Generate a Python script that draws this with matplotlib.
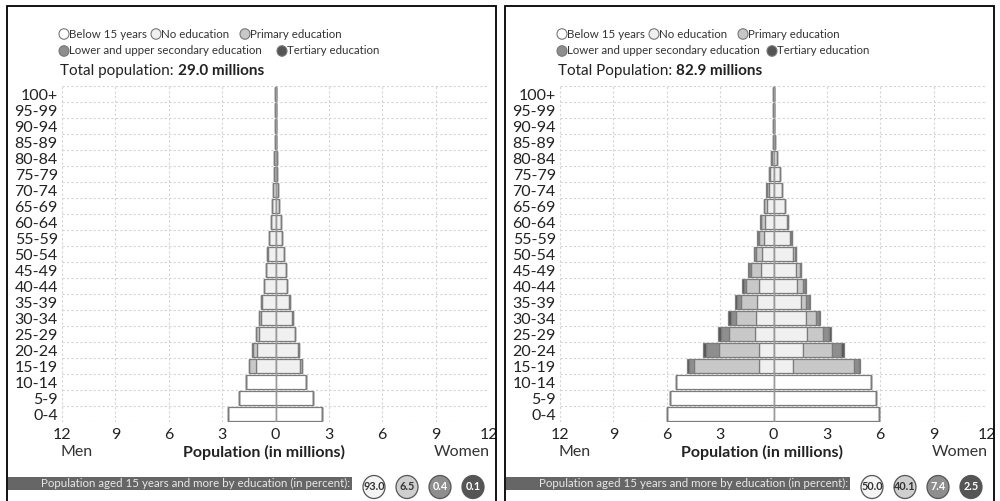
import matplotlib
matplotlib.use('Agg')
from matplotlib import pyplot as plt
from matplotlib.patches import Rectangle, Ellipse

plt.rcParams['font.family'] = ['Lato', 'DejaVu Sans']

ages = ['0-4', '5-9', '10-14', '15-19', '20-24', '25-29', '30-34', '35-39', '40-44',
        '45-49', '50-54', '55-59', '60-64', '65-69', '70-74', '75-79', '80-84',
        '85-89', '90-94', '95-99', '100+']

# left chart (29.0 millions) - millions, from 0-4 up to 100+
l_men_below15 = [2.68, 2.06, 1.67] + [0] * 18
l_men_noedu = [0, 0, 0, 1.10, 1.05, 0.95, 0.83, 0.74, 0.64, 0.54, 0.44, 0.35, 0.26,
               0.20, 0.15, 0.10, 0.06, 0.035, 0.015, 0.005, 0.001]
l_men_prim = [0, 0, 0, 0.38, 0.24, 0.15, 0.08, 0.05, 0.03, 0.02, 0.01, 0.01, 0,
              0, 0, 0, 0, 0, 0, 0, 0]
l_men_sec = [0, 0, 0, 0.02, 0.02, 0.01, 0.01] + [0] * 14
l_men_ter = [0] * 21
l_wom_below15 = [2.63, 2.10, 1.69] + [0] * 18
l_wom_noedu = [0, 0, 0, 1.40, 1.25, 1.09, 0.94, 0.78, 0.67, 0.58, 0.47, 0.37, 0.30,
               0.20, 0.15, 0.10, 0.06, 0.035, 0.015, 0.005, 0.001]
l_wom_prim = [0, 0, 0, 0.09, 0.05, 0.03, 0.02, 0.01] + [0] * 13
l_wom_sec = [0, 0, 0, 0.01, 0.01] + [0] * 16
l_wom_ter = [0] * 21

# right chart (82.9 millions)
r_men_below15 = [6.00, 5.83, 5.46] + [0] * 18
r_men_noedu = [0, 0, 0, 0.80, 0.80, 1.03, 0.99, 0.90, 0.80, 0.71, 0.62, 0.55, 0.48,
               0.37, 0.28, 0.18, 0.10, 0.04, 0.015, 0.004, 0.001]
r_men_prim = [0, 0, 0, 3.65, 2.28, 1.46, 1.12, 0.93, 0.75, 0.53, 0.38, 0.29, 0.22,
              0.15, 0.10, 0.06, 0.03, 0.01, 0.005, 0.001, 0]
r_men_sec = [0, 0, 0, 0.28, 0.71, 0.45, 0.28, 0.22, 0.13, 0.11, 0.07, 0.05, 0.03,
             0.02, 0.01, 0.005, 0, 0, 0, 0, 0]
r_men_ter = [0, 0, 0, 0.13, 0.17, 0.20, 0.17, 0.12, 0.08, 0.07, 0.04, 0.03, 0.02,
             0.01, 0.01, 0.005, 0, 0, 0, 0, 0]
r_wom_below15 = [5.95, 5.76, 5.48] + [0] * 18
r_wom_noedu = [0, 0, 0, 1.07, 1.63, 1.91, 1.82, 1.54, 1.34, 1.25, 1.08, 0.93, 0.76,
               0.62, 0.47, 0.34, 0.20, 0.10, 0.03, 0.01, 0.002]
r_wom_prim = [0, 0, 0, 3.46, 1.65, 0.90, 0.56, 0.30, 0.32, 0.22, 0.13, 0.08, 0.05,
              0.03, 0.01, 0.01, 0, 0, 0, 0, 0]
r_wom_sec = [0, 0, 0, 0.28, 0.54, 0.32, 0.18, 0.15, 0.11, 0.05, 0.03, 0.02, 0.01,
             0, 0, 0, 0, 0, 0, 0, 0]
r_wom_ter = [0, 0, 0, 0.07, 0.17, 0.10, 0.06, 0.06, 0.05, 0.03, 0.02, 0.01, 0,
             0, 0, 0, 0, 0, 0, 0, 0]

l_total = '29.0 millions'
r_total = '82.9 millions'
l_share = ['93.0', '6.5', '0.4', '0.1']
r_share = ['50.0', '40.1', '7.4', '2.5']

legend_labels = ['Below 15 years', 'No education', 'Primary education',
                 'Lower and upper secondary education', 'Tertiary education']
colors = ['#ffffff', '#f0f0f0', '#c8c8c8', '#8e8e8e', '#555555']
share_colors = ['#f4f4f4', '#cfcfcf', '#8e8e8e', '#555555']
share_text = ['#333333', '#333333', '#ffffff', '#ffffff']

W, H = 1000, 501
fig = plt.figure(figsize=(10, 5.01), dpi=100)


def fx(px):
    return px / W


def fy(py):
    return 1 - py / H


def panel(x0, men, wom, total_label, total, shares, tert_x):
    # outer frame
    fig.add_artist(Rectangle((fx(x0 + 7), fy(505)), fx(489), fy(6) - fy(505),
                             fill=False, edgecolor='black', lw=1.3))
    ax = fig.add_axes([fx(x0 + 62), fy(422), fx(427), fy(86) - fy(422)])
    y = list(range(len(ages)))
    for side, groups in ((-1, men), (1, wom)):
        left = [0] * len(ages)
        for vals, c in zip(groups, colors):
            w = [side * v for v in vals]
            ax.barh(y, w, left=[side * l for l in left], height=0.9, color=c,
                    edgecolor='#7c7c7c', linewidth=0.9, zorder=2)
            left = [a + b for a, b in zip(left, vals)]
    ax.axvline(0, color='#9a9a9a', lw=1, zorder=3)
    ax.set_xlim(-12, 12)
    ax.set_ylim(-0.5, len(ages) - 0.5)
    ax.set_xticks(range(-12, 13, 3))
    ax.set_xticklabels([str(abs(t)) for t in range(-12, 13, 3)])
    ax.set_yticks(y)
    ax.set_yticklabels(ages)
    for yy in range(len(ages) + 1):
        ax.axhline(yy - 0.5, color='#d4d4d4', lw=0.8, ls=(0, (2, 2)), zorder=1)
    for xx in range(-12, 13, 3):
        ax.axvline(xx, color='#d4d4d4', lw=0.8, ls=(0, (2, 2)), zorder=1)
    for s in ax.spines.values():
        s.set_visible(False)
    ax.tick_params(length=0, labelsize=11.5, labelcolor='#222222', pad=3)
    ax.tick_params(axis='x', pad=4)

    fig.text(fx(x0 + 60), fy(452), 'Men', fontsize=11.5, color='#333333', va='center')
    fig.text(fx(x0 + 264), fy(452), 'Population (in millions)', fontsize=11.5,
             fontweight='bold', color='#222222', ha='center', va='center')
    fig.text(fx(x0 + 490), fy(452), 'Women', fontsize=11.5, color='#333333',
             ha='right', va='center')

    # legend
    pos = [(64, 34), (156, 34), (245, 34), (64, 51), (tert_x, 51)]
    for (cx, cy), lab, c in zip(pos, legend_labels, colors):
        fig.add_artist(Ellipse((fx(x0 + cx), fy(cy)), fx(10), fy(0) - fy(10.5),
                               facecolor=c, edgecolor='#777777', lw=0.8))
        fig.text(fx(x0 + cx + 5), fy(cy), lab, fontsize=8.3, color='#333333',
                 va='center')
    t = fig.text(fx(x0 + 60), fy(71), total_label, fontsize=11, color='#222222',
                 va='center')
    fig.canvas.draw()
    bb = t.get_window_extent()
    fig.text(bb.x1 / W, fy(71), total, fontsize=11, fontweight='bold',
             color='#222222', va='center')

    # bottom strip
    fig.add_artist(Rectangle((fx(x0 + 8), fy(490)), fx(344), fy(477) - fy(490),
                             facecolor='#666666', edgecolor='none'))
    fig.text(fx(x0 + 350), fy(483.5),
             'Population aged 15 years and more by education (in percent):',
             fontsize=8.3, color='#e8e8e8', ha='right', va='center')
    for i, (v, c, tc) in enumerate(zip(shares, share_colors, share_text)):
        cx = x0 + 374 + 33 * i
        fig.add_artist(Ellipse((fx(cx), fy(487)), fx(22), fy(0) - fy(23),
                               facecolor=c, edgecolor='#555555', lw=0.9))
        fig.text(fx(cx), fy(487), v, fontsize=7.8, fontweight='bold', color=tc,
                 ha='center', va='center')


panel(0, [l_men_below15, l_men_noedu, l_men_prim, l_men_sec, l_men_ter],
      [l_wom_below15, l_wom_noedu, l_wom_prim, l_wom_sec, l_wom_ter],
      'Total population: ', l_total, l_share, 282)
panel(498, [r_men_below15, r_men_noedu, r_men_prim, r_men_sec, r_men_ter],
      [r_wom_below15, r_wom_noedu, r_wom_prim, r_wom_sec, r_wom_ter],
      'Total Population: ', r_total, r_share, 274)

fig.savefig('out.png', dpi=100)
